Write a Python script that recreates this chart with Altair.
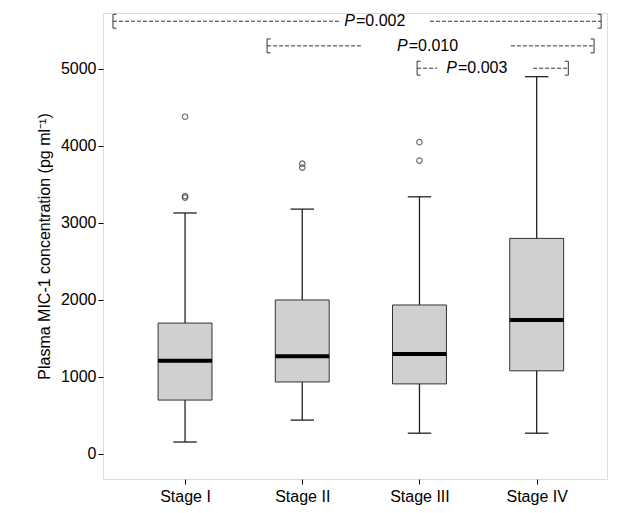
import altair as alt
import pandas as pd

stages = ["Stage I", "Stage II", "Stage III", "Stage IV"]
pos = [1, 2, 3, 4]
wmin = [155, 440, 270, 270]
q1 = [700, 935, 910, 1080]
med = [1210, 1270, 1300, 1740]
q3 = [1700, 2000, 1935, 2800]
wmax = [3130, 3180, 3340, 4900]
out_pos = [1, 1, 1, 2, 2, 3, 3]
out_val = [4380, 3350, 3330, 3770, 3720, 4050, 3810]

br_l = [0.385, 1.7, 2.98]
br_g1 = [2.32, 2.5, 3.15]
br_g2 = [3.09, 3.78, 3.97]
br_r = [4.55, 4.49, 4.27]
br_y = [5620, 5300, 5010]
br_num = ["=0.002", "=0.010", "=0.003"]
br_lx = [2.45, 2.9, 3.32]

box = pd.DataFrame(dict(stage=stages, x=pos, wmin=wmin, q1=q1, med=med, q3=q3, wmax=wmax))
box["xl"] = box.x - 0.23
box["xr"] = box.x + 0.23
box["cl"] = box.x - 0.1
box["cr"] = box.x + 0.1
outs = pd.DataFrame(dict(x=out_pos, v=out_val))

segs = []
for i in range(3):
    segs.append(dict(a=br_l[i], b=br_g1[i], y=br_y[i]))
    segs.append(dict(a=br_g2[i], b=br_r[i], y=br_y[i]))
segs = pd.DataFrame(segs)
ends = []
for i in range(3):
    for xx in (br_l[i], br_r[i]):
        ends.append(dict(x=xx, y1=br_y[i] - 90, y2=br_y[i] + 90))
ends = pd.DataFrame(ends)
caps = []
for i in range(3):
    caps.append(dict(a=br_l[i], b=br_l[i] + 0.03, y=br_y[i] - 90))
    caps.append(dict(a=br_l[i], b=br_l[i] + 0.03, y=br_y[i] + 90))
    caps.append(dict(a=br_r[i] - 0.03, b=br_r[i], y=br_y[i] - 90))
    caps.append(dict(a=br_r[i] - 0.03, b=br_r[i], y=br_y[i] + 90))
caps = pd.DataFrame(caps)
labs = pd.DataFrame(dict(x=br_lx, y=br_y, t=br_num))

X = alt.Scale(domain=[0.3, 4.6], nice=False, zero=False)
Y = alt.Scale(domain=[-325, 5727], nice=False)
xax = alt.Axis(values=pos, labelExpr="['','Stage I','Stage II','Stage III','Stage IV'][datum.value]",
               title=None, grid=False, labelFontSize=16, labelColor="black", tickColor="black",
               domain=False, labelPadding=4)
yax = alt.Axis(values=[0, 1000, 2000, 3000, 4000, 5000], format="d", title="Plasma MIC-1 concentration (pg ml⁻¹)",
               grid=False, labelFontSize=16, titleFontSize=16, titleFontWeight="normal", labelColor="black",
               titleColor="black", tickColor="black", domain=False, titlePadding=8)

b = alt.Chart(box)
whisk = b.mark_rule(color="#222", strokeWidth=1.3).encode(
    x=alt.X("x:Q", scale=X, axis=xax), y=alt.Y("wmin:Q", scale=Y, axis=yax), y2="wmax:Q")
capmin = b.mark_rule(color="#222", strokeWidth=1.3).encode(x=alt.X("cl:Q", scale=X), x2="cr:Q", y=alt.Y("wmin:Q", scale=Y))
capmax = b.mark_rule(color="#222", strokeWidth=1.3).encode(x=alt.X("cl:Q", scale=X), x2="cr:Q", y=alt.Y("wmax:Q", scale=Y))
rect = b.mark_rect(fill="#d0d0d0", stroke="#333", strokeWidth=1).encode(
    x=alt.X("xl:Q", scale=X), x2="xr:Q", y=alt.Y("q1:Q", scale=Y), y2="q3:Q")
medr = b.mark_rule(color="black", strokeWidth=4).encode(x=alt.X("xl:Q", scale=X), x2="xr:Q", y=alt.Y("med:Q", scale=Y))
pts = alt.Chart(outs).mark_point(shape="circle", size=30, color="#333", strokeWidth=1.2, filled=False).encode(
    x=alt.X("x:Q", scale=X), y=alt.Y("v:Q", scale=Y))
sl = alt.Chart(segs).mark_rule(color="#333", strokeDash=[4, 2], strokeWidth=1).encode(
    x=alt.X("a:Q", scale=X), x2="b:Q", y=alt.Y("y:Q", scale=Y))
el = alt.Chart(ends).mark_rule(color="#333", strokeWidth=1).encode(
    x=alt.X("x:Q", scale=X), y=alt.Y("y1:Q", scale=Y), y2="y2:Q")
cl = alt.Chart(caps).mark_rule(color="#333", strokeWidth=1).encode(
    x=alt.X("a:Q", scale=X), x2="b:Q", y=alt.Y("y:Q", scale=Y))
tp = alt.Chart(labs).mark_text(fontSize=16, color="black", fontStyle="italic", align="right").encode(
    x=alt.X("x:Q", scale=X), y=alt.Y("y:Q", scale=Y), text=alt.value("P"))
tx = alt.Chart(labs).mark_text(fontSize=16, color="black", align="left", dx=1).encode(
    x=alt.X("x:Q", scale=X), y=alt.Y("y:Q", scale=Y), text="t:N")

chart = alt.layer(whisk, capmin, capmax, rect, medr, pts, sl, el, cl, tp, tx).properties(
    width=504, height=466, padding={"left": 28, "top": 5, "right": 5, "bottom": 5}).configure_view(
    stroke="black", strokeWidth=1).configure(font="Liberation Sans")
chart.save("out.html", embed_options={"renderer": "svg", "actions": False})
